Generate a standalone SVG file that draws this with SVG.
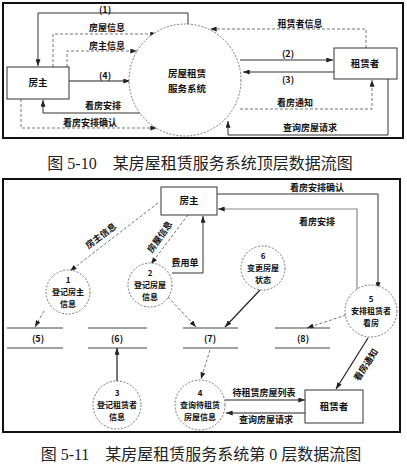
<svg xmlns="http://www.w3.org/2000/svg" width="407" height="468" viewBox="0 0 407 468">
<style>
.frame{fill:none;stroke:#111;stroke-width:2}
.box{fill:#fff;stroke:#333;stroke-width:1}
.proc{fill:#fff;stroke:#555;stroke-width:0.8;stroke-dasharray:2,1.5}
.s{fill:none;stroke:#333;stroke-width:1}
.sd{fill:none;stroke:#222;stroke-width:1.2}
.d{fill:none;stroke:#666;stroke-width:0.9;stroke-dasharray:3,2}
.g{fill:none;stroke:#777;stroke-width:2}
.store{stroke:#444;stroke-width:1}
text{font-family:"Noto Sans CJK SC","Liberation Sans",sans-serif;fill:#111}
.lb{font-size:9px;font-weight:bold}
.nt{font-size:9.5px;font-weight:bold;text-anchor:middle}
.ct{font-size:8px;font-weight:bold;text-anchor:middle}
.cap{font-family:"Liberation Serif","Noto Sans CJK SC",serif;font-size:16px;text-anchor:middle;fill:#222}
</style>
<defs>
<marker id="a" viewBox="0 0 8 6" refX="8" refY="3" markerWidth="7" markerHeight="5" markerUnits="userSpaceOnUse" orient="auto">
<path d="M0,0 L8,3 L0,6 Z" fill="#222"/>
</marker>
</defs>
<rect width="407" height="468" fill="#fff"/>

<!-- ============ Top diagram ============ -->
<rect class="frame" x="3" y="3" width="400" height="135"/>
<g id="connectors-top">
  <path class="s" d="M188,25 V13 H38 V66" marker-end="url(#a)"/>
  <path class="d" d="M53,67 V34 H157" marker-end="url(#a)"/>
  <path class="d" d="M67,67 V51 H137" marker-end="url(#a)"/>
  <path class="sd" d="M69,81 H130" marker-end="url(#a)"/>
  <path class="s" d="M143,113 H43 V100" marker-end="url(#a)"/>
  <path class="d" d="M21,99 V128 H157" marker-end="url(#a)"/>
  <path class="d" d="M366,48 V29 H210" marker-end="url(#a)"/>
  <path class="s" d="M240,60 H333" marker-end="url(#a)"/>
  <path class="s" d="M334,72 H243" marker-end="url(#a)"/>
  <path class="d" d="M240,109 H372 V80" marker-end="url(#a)"/>
  <path class="s" d="M388,79 V135 H228 V121" marker-end="url(#a)"/>
  <text class="lb" x="105" y="13" text-anchor="middle">(1)</text>
  <text class="lb" x="107" y="31" text-anchor="middle">房屋信息</text>
  <text class="lb" x="107" y="49" text-anchor="middle">房主信息</text>
  <text class="lb" x="105" y="79" text-anchor="middle">(4)</text>
  <text class="lb" x="103" y="109" text-anchor="middle">看房安排</text>
  <text class="lb" x="90" y="126" text-anchor="middle">看房安排确认</text>
  <text class="lb" x="300" y="27" text-anchor="middle">租赁者信息</text>
  <text class="lb" x="288" y="57" text-anchor="middle">(2)</text>
  <text class="lb" x="288" y="83" text-anchor="middle">(3)</text>
  <text class="lb" x="295" y="106" text-anchor="middle">看房通知</text>
  <text class="lb" x="310" y="131" text-anchor="middle">查询房屋请求</text>
</g>
<g id="top-landlord">
  <rect class="box" x="7" y="67" width="62" height="32"/>
  <text class="nt" x="38" y="86">房主</text>
</g>
<g id="top-system">
  <circle class="proc" cx="185" cy="80" r="56"/>
  <text class="nt" x="187" y="77">房屋租赁</text>
  <text class="nt" x="187" y="92">服务系统</text>
</g>
<g id="top-tenant">
  <rect class="box" x="334" y="48" width="63" height="31"/>
  <text class="nt" x="365" y="67">租赁者</text>
</g>
<text class="cap" x="200" y="169" xml:space="preserve">图 5-10    某房屋租赁服务系统顶层数据流图</text>

<!-- ============ Bottom diagram ============ -->
<rect class="frame" x="3" y="179" width="397" height="253"/>
<g id="connectors-bottom">
  <path class="s" d="M217,194 H378 V289" marker-end="url(#a)"/>
  <path class="g" d="M357,292 V209 H218" marker-end="url(#a)" style="stroke-width:1.2;stroke:#888"/>
  <path class="d" d="M158,203 L70,271" marker-end="url(#a)"/>
  <path class="d" d="M188,215 L151,264" marker-end="url(#a)"/>
  <path class="s" d="M172,273 H203 V216" marker-end="url(#a)"/>
  <path class="d" d="M44,311 L35,327" marker-end="url(#a)"/>
  <path class="d" d="M168,297 L196,327" marker-end="url(#a)"/>
  <path class="sd" d="M260,290 L225,327" marker-end="url(#a)"/>
  <path class="d" d="M346,315 L307,328" marker-end="url(#a)"/>
  <path class="d" d="M210,350 L201,379" marker-end="url(#a)"/>
  <path class="g" d="M117,381 V348" marker-end="url(#a)"/>
  <path class="sd" d="M368,338 L336,389" marker-end="url(#a)"/>
  <path class="sd" d="M225,400 H305" marker-end="url(#a)"/>
  <path class="sd" d="M305,413 H226" marker-end="url(#a)"/>
  <text class="lb" x="317" y="191" text-anchor="middle">看房安排确认</text>
  <text class="lb" x="317" y="225" text-anchor="middle">看房安排</text>
  <text class="lb" x="101" y="239" text-anchor="middle" transform="rotate(-37 101 236)">房主信息</text>
  <text class="lb" x="160" y="240" text-anchor="middle" transform="rotate(-55 160 237)">房屋信息</text>
  <text class="lb" x="185" y="266" text-anchor="middle">费用单</text>
  <text class="lb" x="366" y="368" text-anchor="middle" transform="rotate(-57 366 365)">看房通知</text>
  <text class="lb" x="264" y="396" text-anchor="middle">待租赁房屋列表</text>
  <text class="lb" x="266" y="423" text-anchor="middle">查询房屋请求</text>
</g>
<g id="landlord">
  <rect class="box" x="161" y="187" width="56" height="28"/>
  <text class="nt" x="189" y="204">房主</text>
</g>
<g id="p1">
  <circle class="proc" cx="68" cy="292" r="22"/>
  <text class="ct" x="68" y="283">1</text>
  <text class="ct" x="68" y="295">登记房主</text>
  <text class="ct" x="68" y="307">信息</text>
</g>
<g id="p2">
  <circle class="proc" cx="150" cy="285" r="22"/>
  <text class="ct" x="150" y="276">2</text>
  <text class="ct" x="150" y="288">登记房屋</text>
  <text class="ct" x="150" y="300">信息</text>
</g>
<g id="p6">
  <circle class="proc" cx="263" cy="268" r="22"/>
  <text class="ct" x="263" y="259">6</text>
  <text class="ct" x="263" y="271">变更房屋</text>
  <text class="ct" x="263" y="283">状态</text>
</g>
<g id="p5">
  <circle class="proc" cx="371" cy="311" r="26"/>
  <text class="ct" x="371" y="302">5</text>
  <text class="ct" x="371" y="314">安排租赁者</text>
  <text class="ct" x="371" y="326">看房</text>
</g>
<g id="p3">
  <circle class="proc" cx="117" cy="405" r="24"/>
  <text class="ct" x="117" y="396">3</text>
  <text class="ct" x="117" y="408">登记租赁者</text>
  <text class="ct" x="117" y="420">信息</text>
</g>
<g id="p4">
  <circle class="proc" cx="200" cy="405" r="25"/>
  <text class="ct" x="200" y="396">4</text>
  <text class="ct" x="200" y="408">查询待租赁</text>
  <text class="ct" x="200" y="420">房屋信息</text>
</g>
<g id="store5">
  <line class="store" x1="7" y1="328" x2="63" y2="328"/>
  <line class="store" x1="7" y1="348" x2="63" y2="348"/>
  <text class="lb" x="38" y="342" text-anchor="middle">(5)</text>
</g>
<g id="store6">
  <line class="store" x1="88" y1="328" x2="147" y2="328"/>
  <line class="store" x1="88" y1="348" x2="147" y2="348"/>
  <text class="lb" x="117" y="342" text-anchor="middle">(6)</text>
</g>
<g id="store7">
  <line class="store" x1="183" y1="328" x2="238" y2="328"/>
  <line class="store" x1="183" y1="348" x2="238" y2="348"/>
  <text class="lb" x="210" y="342" text-anchor="middle">(7)</text>
</g>
<g id="store8">
  <line class="store" x1="275" y1="328" x2="330" y2="328"/>
  <line class="store" x1="275" y1="348" x2="330" y2="348"/>
  <text class="lb" x="303" y="342" text-anchor="middle">(8)</text>
</g>
<g id="tenant">
  <rect class="box" x="305" y="390" width="58" height="33"/>
  <text class="nt" x="334" y="410">租赁者</text>
</g>
<text class="cap" x="201" y="460" xml:space="preserve">图 5-11    某房屋租赁服务系统第 0 层数据流图</text>
</svg>
